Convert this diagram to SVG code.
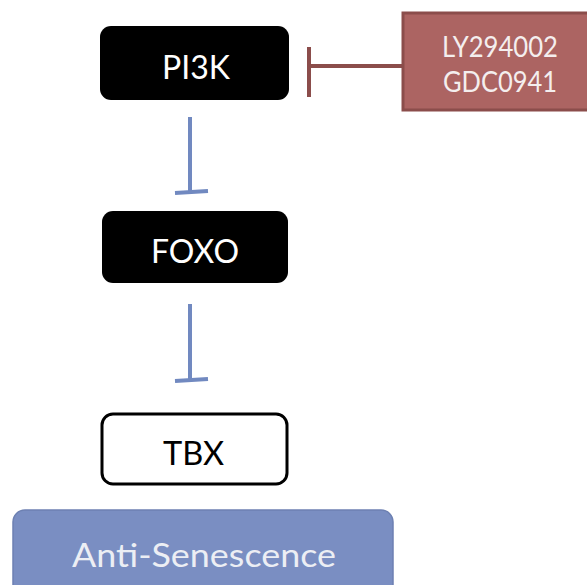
<svg xmlns="http://www.w3.org/2000/svg" width="587" height="585" viewBox="0 0 587 585">
<style>
.dark{fill:#000;}
.lbl{font-family:"Lato","Liberation Sans",sans-serif;text-anchor:middle;}
.blue{stroke:#7189c0;stroke-width:4;fill:none;}
.red{stroke:#8b4d4b;stroke-width:4;fill:none;}
</style>
<rect width="587" height="585" fill="#fff"/>
<g id="connectors">
<path class="red" d="M309 47 V97 M309 66 H404"/>
<path class="blue" d="M190 117 V192 M175 193 L208 191"/>
<path class="blue" d="M190 304 V380 M175 381 L208 379"/>
</g>
<g id="node-pi3k">
<rect class="dark" x="100" y="26" width="189" height="74" rx="11"/>
<text class="lbl" x="196" y="79" font-size="33" fill="#fff" textLength="68" lengthAdjust="spacingAndGlyphs">PI3K</text>
</g>
<g id="node-inhibitor">
<rect x="403" y="13" width="190" height="97" fill="#ac6462" stroke="#8b4d4b" stroke-width="3"/>
<text class="lbl" x="500" y="57" font-size="29" fill="#f4eeee" textLength="116" lengthAdjust="spacingAndGlyphs">LY294002</text>
<text class="lbl" x="500" y="92" font-size="29" fill="#f4eeee" textLength="114" lengthAdjust="spacingAndGlyphs">GDC0941</text>
</g>
<g id="node-foxo">
<rect class="dark" x="102" y="211" width="186" height="72" rx="11"/>
<text class="lbl" x="195" y="263" font-size="33" fill="#fff" textLength="88" lengthAdjust="spacingAndGlyphs">FOXO</text>
</g>
<g id="node-tbx">
<rect x="102" y="414" width="185" height="70" rx="11" fill="#fff" stroke="#000" stroke-width="3"/>
<text class="lbl" x="193.5" y="465" font-size="33" fill="#000" textLength="61" lengthAdjust="spacingAndGlyphs">TBX</text>
</g>
<g id="node-anti">
<rect x="13" y="510" width="380" height="90" rx="12" fill="#7a8ec2" stroke="#6d80b2" stroke-width="1.5"/>
<text class="lbl" x="204" y="567" font-size="33" fill="#eceef4" textLength="264" lengthAdjust="spacingAndGlyphs">Anti-Senescence</text>
</g>
</svg>
